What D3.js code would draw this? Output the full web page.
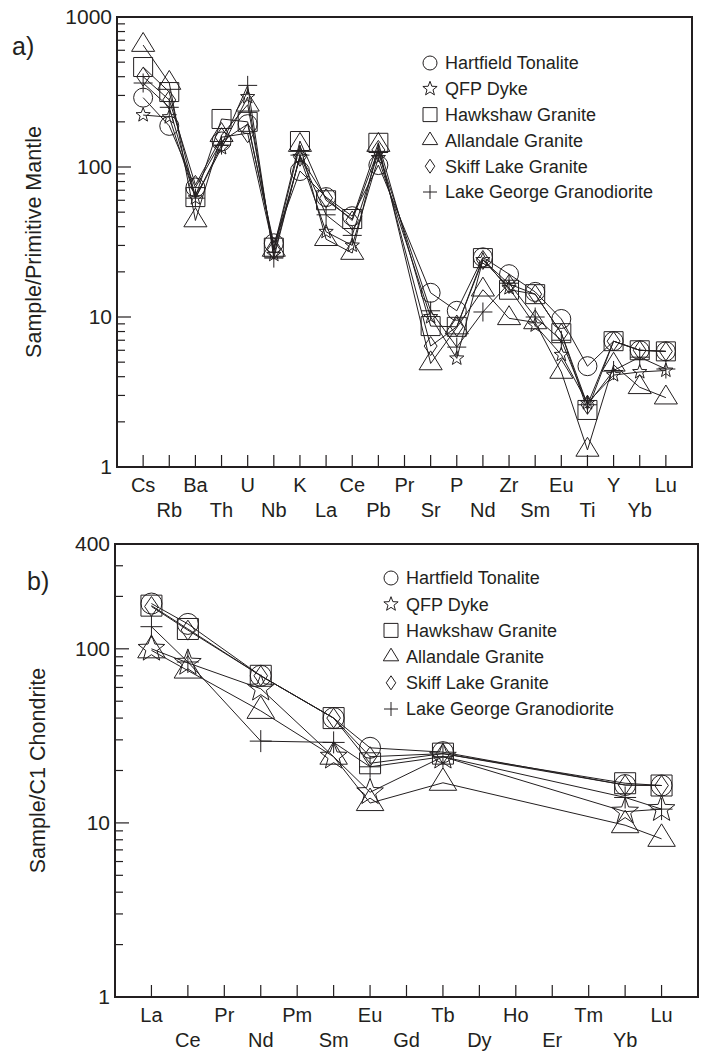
<!DOCTYPE html>
<meta charset="utf-8">
<style>
body { margin: 0; background: #fff; }
text { font-family: "Liberation Sans", Arial, sans-serif; fill: #231f20; }
.frame { fill: none; stroke: #231f20; stroke-width: 2px; }
.tick { stroke: #231f20; stroke-width: 1.2px; }
.series { fill: none; stroke: #231f20; stroke-width: 1px; }
.mark { fill: none; stroke: #231f20; stroke-width: 1px; }
</style>
<body>
<script src="https://cdnjs.cloudflare.com/ajax/libs/d3/7.8.5/d3.min.js"></script>
<script>

// panel a) spider diagram, normalised to primitive mantle
var mantleElements = ["Cs","Rb","Ba","Th","U","Nb","K","La","Ce","Pb","Pr","Sr","P","Nd","Zr","Sm","Eu","Ti","Y","Yb","Lu"];
var mantleHartfield  = [290,188,73,148,193,31,94,63,47,103,null,14.5,11,25,19.3,14.7,9.7,4.7,6.9,6,5.9];
var mantleQFP        = [222,215,62,134,293,26,117,37,30,115,null,10,5.3,24,15.6,8.8,5.6,2.67,4.1,4.3,4.4];
var mantleHawkshaw   = [464,316,63,209,200,29,149,60,45,145,null,8.7,8.6,24.7,15.2,14.2,7.8,2.4,6.9,6,5.9];
var mantleAllandale  = [650,363,44,163,260,28,140,33,26.7,140,null,4.9,8.5,15.2,9.8,9.2,4.3,1.3,4.8,3.4,2.9];
var mantleSkiff      = [400,280,76,158,168,28,117,62,44,130,null,6.4,8.6,24,16.6,14.2,7.8,2.6,6.9,6,5.9];
var mantleLakeGeorge = [363,250,62,140,350,24.7,120,48,35,125,null,11,6.3,10.8,16.8,10,7,2.6,4.4,5.4,4.5];
var mantleTicks = [1,10,100,1000];

// panel b) REE, normalised to C1 chondrite
var reeElements = ["La","Ce","Pr","Nd","Pm","Sm","Eu","Gd","Tb","Dy","Ho","Er","Tm","Yb","Lu"];
var reeHartfield  = [182,139,null,70,null,40,27,null,25.5,null,null,null,null,16.5,16.4];
var reeQFP        = [100,83,null,59,null,24,15,null,24,null,null,null,null,11.6,12];
var reeHawkshaw   = [177,130,null,70,null,40,22,null,25,null,null,null,null,16.9,16.4];
var reeAllandale  = [98,75,null,44,null,24,13,null,17,null,null,null,null,9.7,8.1];
var reeSkiff      = [175,128,null,70,null,40,24,null,25,null,null,null,null,16.5,16.4];
var reeLakeGeorge = [134,84,null,29.5,null,29,21,null,24,null,null,null,null,14,12];
var reeTicks = [1,10,100,400];

var seriesNames = ["Hartfield Tonalite","QFP Dyke","Hawkshaw Granite","Allandale Granite","Skiff Lake Granite","Lake George Granodiorite"];
var seriesShapes = ["circle","star","square","triangle","diamond","plus"];

// open marker outlines, s = nominal size in px
function markerPath(shape, s) {
  var h = s / 2, p = d3.path();
  if (shape == "circle") {
    p.moveTo(h, 0); p.arc(0, 0, h, 0, 2 * Math.PI);
  } else if (shape == "square") {
    p.rect(-h, -h, s, s);
  } else if (shape == "triangle") {
    var th = s * 0.9;
    p.moveTo(0, -th * 2 / 3); p.lineTo(h * 1.1, th / 3); p.lineTo(-h * 1.1, th / 3); p.closePath();
  } else if (shape == "diamond") {
    p.moveTo(0, -h); p.lineTo(h * 0.68, 0); p.lineTo(0, h); p.lineTo(-h * 0.68, 0); p.closePath();
  } else if (shape == "plus") {
    p.moveTo(-h, 0); p.lineTo(h, 0); p.moveTo(0, -h); p.lineTo(0, h);
  } else if (shape == "star") {
    for (var i = 0; i < 10; i++) {
      var r = i % 2 ? h * 0.42 : h, a = -Math.PI / 2 + i * Math.PI / 5;
      if (i == 0) p.moveTo(r * Math.cos(a), r * Math.sin(a)); else p.lineTo(r * Math.cos(a), r * Math.sin(a));
    }
    p.closePath();
  }
  return p.toString();
}

var svg = d3.select("body").append("svg")
    .attr("width", 701)
    .attr("height", 1053);

function drawPanel(cfg) {
  var g = svg.append("g");
  var x = d3.scalePoint().domain(cfg.elements).range([cfg.left, cfg.right]).padding(1);
  var y = d3.scaleLog().domain(cfg.domain).range([cfg.bottom, cfg.top]);

  // log minor ticks on the left, pointing inward
  var minor = [];
  for (var dec = 1; dec < cfg.domain[1]; dec *= 10)
    for (var m = 2; m < 10; m++) if (dec * m < cfg.domain[1]) minor.push(dec * m);
  g.selectAll(".ymin").data(minor).enter().append("line").attr("class", "tick")
    .attr("x1", cfg.left).attr("x2", cfg.left + 8)
    .attr("y1", function(d) { return y(d); }).attr("y2", function(d) { return y(d); });
  g.selectAll(".ymaj").data(cfg.ticks).enter().append("line").attr("class", "tick")
    .attr("x1", cfg.left).attr("x2", cfg.left + 14)
    .attr("y1", function(d) { return y(d); }).attr("y2", function(d) { return y(d); });
  g.selectAll(".ylab").data(cfg.ticks).enter().append("text")
    .attr("x", cfg.left - 5).attr("y", function(d) { return y(d); })
    .attr("dy", "0.35em").attr("text-anchor", "end").style("font-size", "21px")
    .text(function(d) { return d; });

  // category ticks along the bottom, labels in two staggered rows
  g.selectAll(".xt").data(cfg.elements).enter().append("line").attr("class", "tick")
    .attr("x1", function(d) { return x(d); }).attr("x2", function(d) { return x(d); })
    .attr("y1", cfg.bottom).attr("y2", cfg.bottom - 12);
  g.selectAll(".xl").data(cfg.elements).enter().append("text")
    .attr("x", function(d) { return x(d); })
    .attr("y", function(d, i) { return cfg.bottom + (i % 2 ? 43 : 18); })
    .attr("dy", "0.35em").attr("text-anchor", "middle").style("font-size", "20px")
    .text(function(d) { return d; });

  g.append("rect").attr("class", "frame")
    .attr("x", cfg.left).attr("y", cfg.top)
    .attr("width", cfg.right - cfg.left).attr("height", cfg.bottom - cfg.top);

  g.append("text")
    .attr("transform", "translate(" + cfg.titleX + "," + ((cfg.top + cfg.bottom) / 2) + ") rotate(-90)")
    .attr("text-anchor", "middle").attr("dy", "0.35em").style("font-size", "21.5px")
    .text(cfg.title);
  g.append("text").attr("x", cfg.tagX).attr("y", cfg.tagY).attr("dy", "0.35em")
    .style("font-size", "25px").text(cfg.tag);

  var line = d3.line()
    .defined(function(d) { return d.v != null; })
    .x(function(d) { return x(d.e); })
    .y(function(d) { return y(d.v); });

  cfg.series.forEach(function(vals, k) {
    var pts = vals.map(function(v, i) { return {e: cfg.elements[i], v: v}; })
      .filter(function(d) { return d.v != null; });
    g.append("path").attr("class", "series").attr("d", line(pts));
    g.selectAll(".m" + k).data(pts).enter().append("path")
      .attr("class", "mark")
      .attr("stroke-width", seriesShapes[k] == "star" ? cfg.starWidth : 1)
      .attr("transform", function(d) { return "translate(" + x(d.e) + "," + y(d.v) + ")"; })
      .attr("d", markerPath(seriesShapes[k], cfg.sizes[seriesShapes[k]]));
  });

  // legend
  var lg = g.selectAll(".lg").data(seriesNames).enter().append("g")
    .attr("transform", function(d, i) { return "translate(" + cfg.legX + "," + (cfg.legY + i * cfg.legStep) + ")"; });
  lg.append("path").attr("class", "mark")
    .attr("d", function(d, i) { return markerPath(seriesShapes[i], seriesShapes[i] == "star" ? 15 : 14); });
  lg.append("text").attr("x", 15).attr("dy", "0.35em").style("font-size", "18px")
    .text(function(d) { return d; });
}

drawPanel({
  elements: mantleElements, domain: [1, 1000], ticks: mantleTicks,
  series: [mantleHartfield, mantleQFP, mantleHawkshaw, mantleAllandale, mantleSkiff, mantleLakeGeorge],
  left: 117, right: 692, top: 17, bottom: 467,
  title: "Sample/Primitive Mantle", titleX: 33, tag: "a)", tagX: 12, tagY: 46,
  sizes: {circle: 19, square: 19, triangle: 21, diamond: 19, plus: 19, star: 15},
  starWidth: 1.8, legX: 430, legY: 63, legStep: 25.8
});

drawPanel({
  elements: reeElements, domain: [1, 400], ticks: reeTicks,
  series: [reeHartfield, reeQFP, reeHawkshaw, reeAllandale, reeSkiff, reeLakeGeorge],
  left: 115, right: 698, top: 544, bottom: 997,
  title: "Sample/C1 Chondrite", titleX: 37, tag: "b)", tagX: 27, tagY: 581,
  sizes: {circle: 21, square: 21, triangle: 25, diamond: 20, plus: 22, star: 28},
  starWidth: 1, legX: 391, legY: 578, legStep: 26.2
});

</script>
</body>
